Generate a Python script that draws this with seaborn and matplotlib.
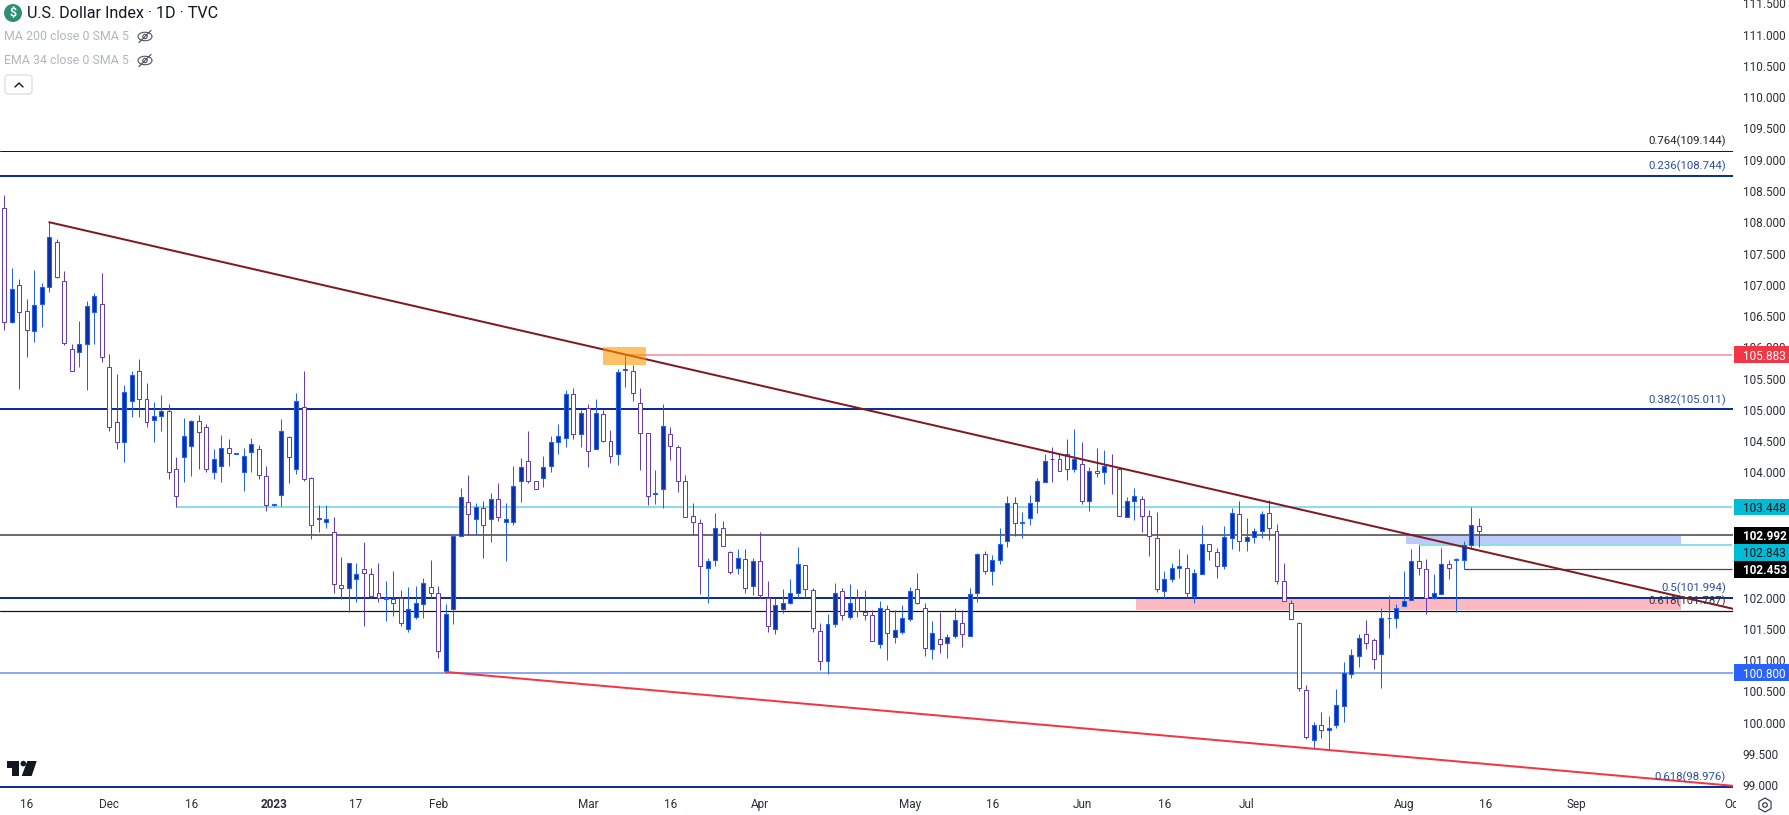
import numpy as np
import pandas as pd
import matplotlib
matplotlib.use("Agg")
import matplotlib.pyplot as plt
from matplotlib.patches import Rectangle, Circle, Ellipse, Polygon, RegularPolygon, FancyBboxPatch
from matplotlib.transforms import Bbox
import seaborn as sns

# ---------- data ----------
opens = [108.22,106.40,106.99,106.58,106.26,106.69,106.96,107.68,107.06,105.97,105.93,106.05,106.56,106.70,105.68,104.80,104.49,105.14,105.62,105.18,
104.84,104.91,104.98,104.05,104.25,104.43,104.82,104.72,104.00,104.10,104.39,104.30,104.00,104.32,104.37,103.94,103.48,103.645,104.56,104.06,
105.04,103.91,103.27,103.20,103.04,102.195,102.16,102.30,102.45,102.37,102.07,101.98,101.97,101.99,101.50,101.69,101.90,102.17,102.08,100.83,
101.81,102.98,103.52,103.25,103.43,103.25,103.57,103.20,103.20,103.87,104.19,103.87,103.91,104.11,104.48,104.545,105.25,104.62,105.03,104.37,
104.93,104.51,104.29,105.65,105.62,105.11,104.63,103.66,103.73,104.61,104.40,103.86,103.30,103.19,102.48,102.60,103.11,102.73,102.48,102.61,
102.18,102.58,101.99,101.50,101.82,101.92,102.08,102.52,102.115,101.46,100.99,101.57,102.10,101.69,101.99,101.77,101.72,101.25,101.81,101.37,
101.45,101.66,102.13,101.84,101.18,101.33,101.27,101.39,101.60,101.39,102.08,102.69,102.42,102.60,102.90,103.51,103.185,103.27,103.54,103.84,
104.22,104.21,104.29,104.05,104.13,103.55,104.03,104.00,104.11,104.05,103.28,103.54,103.57,103.31,102.95,102.11,102.29,102.47,102.48,102.02,
102.37,102.85,102.72,102.50,102.95,103.33,102.91,102.96,103.06,103.35,103.07,102.27,101.92,101.59,100.52,99.73,99.96,99.88,99.97,100.26,
100.77,101.07,101.41,101.32,101.09,101.67,101.68,101.86,101.955,102.58,102.45,101.99,102.05,102.53,102.60,102.60,102.84,103.14]
highs = [108.44,107.27,107.09,106.77,107.24,107.03,108.00,107.73,107.22,106.05,106.42,106.74,106.87,107.19,105.89,105.57,105.40,105.62,105.81,105.43,
105.13,105.24,105.09,104.25,104.87,104.84,104.92,104.77,104.37,104.60,104.53,104.31,104.39,104.55,104.44,104.10,103.49,104.85,104.58,105.27,
105.62,103.93,103.48,103.48,103.29,102.65,102.55,102.55,102.89,102.47,102.55,102.26,102.42,102.12,102.17,102.18,102.31,102.60,102.18,101.90,
102.98,103.75,103.96,103.51,103.54,103.67,103.83,103.51,104.10,104.23,104.66,103.87,104.26,104.58,104.77,105.32,105.35,105.00,105.09,105.175,
105.00,104.68,105.65,105.88,105.72,105.35,104.63,104.04,105.09,104.73,104.44,103.96,103.51,103.25,102.63,103.35,103.22,102.74,102.78,102.78,
102.63,103.04,102.26,101.99,102.14,102.30,102.81,102.52,102.15,101.59,101.74,102.23,102.15,102.22,102.13,102.12,101.80,101.94,101.875,101.80,
101.88,102.17,102.39,101.91,101.62,101.77,101.42,101.83,101.80,102.15,102.71,102.74,102.68,103.11,103.62,103.61,103.37,103.64,103.91,104.30,
104.41,104.29,104.53,104.69,104.49,104.08,104.39,104.36,104.29,104.07,103.60,103.75,103.62,103.40,103.37,102.42,102.55,102.78,102.70,102.46,
103.16,102.85,102.79,103.14,103.43,103.54,103.27,103.11,103.38,103.56,103.18,102.55,101.96,101.61,100.60,100.01,100.17,100.10,100.54,100.97,
101.18,101.42,101.64,101.36,101.84,102.04,101.90,102.42,102.78,102.84,102.61,102.38,102.79,102.60,102.64,102.90,103.44,103.27]
lows = [106.28,106.39,105.33,105.85,106.09,106.33,106.89,107.11,106.03,105.62,105.69,105.32,106.06,105.77,104.67,104.38,104.17,104.89,104.88,104.72,
104.48,104.67,103.90,103.45,103.85,103.95,104.05,104.00,103.90,103.85,104.10,104.30,103.70,104.00,103.90,103.38,103.47,103.46,103.83,103.98,
103.87,102.94,103.04,103.11,102.07,101.98,101.77,101.93,101.55,102.00,101.93,101.63,101.71,101.55,101.45,101.66,101.68,102.00,101.03,100.80,
101.58,102.98,103.00,103.00,102.64,102.89,103.23,102.59,103.165,103.53,103.83,103.74,103.77,104.01,104.30,104.41,104.535,104.41,104.09,104.37,
104.48,104.15,104.125,105.37,105.14,104.04,103.48,103.50,103.43,104.20,103.69,103.28,103.00,102.06,101.92,102.51,102.82,102.38,102.37,102.08,
102.04,101.99,101.45,101.42,101.76,101.89,101.99,101.99,101.45,100.84,100.78,101.53,101.64,101.66,101.69,101.64,101.31,101.19,101.00,101.28,
101.42,101.63,101.89,101.07,101.02,101.12,101.03,101.35,101.21,101.39,101.93,102.38,102.20,102.54,102.80,102.99,102.95,103.16,103.35,103.84,
103.85,104.03,103.88,104.01,103.50,103.38,103.93,103.82,103.66,103.30,103.28,103.24,103.05,102.66,102.09,101.99,102.25,102.32,102.00,101.92,
102.37,102.60,102.31,102.46,102.78,102.74,102.74,102.87,102.95,102.92,102.22,101.94,101.65,100.51,99.74,99.58,99.76,99.57,99.91,100.01,
100.71,100.89,101.18,100.86,100.55,101.35,101.52,101.86,101.955,102.36,101.74,101.97,102.05,102.30,101.77,102.45,102.78,102.81]
closes = [106.40,106.93,106.56,106.27,106.67,106.96,107.76,107.13,106.07,105.62,106.05,106.66,106.82,105.85,104.72,104.49,105.28,105.55,105.17,104.80,
104.91,104.99,104.00,103.62,104.59,104.82,104.65,104.05,104.22,104.39,104.31,104.31,104.26,104.45,103.96,103.485,103.49,104.67,104.25,105.14,
103.90,103.165,103.25,103.25,102.22,102.16,102.55,102.37,102.40,102.03,101.99,101.99,101.91,101.60,101.81,101.91,102.23,102.08,101.15,101.73,
102.98,103.61,103.33,103.45,103.165,103.57,103.28,103.25,103.79,104.08,103.87,103.74,104.08,104.48,104.58,105.25,104.62,104.945,104.35,104.945,
104.51,104.27,105.60,105.64,105.265,104.63,103.62,103.67,104.74,104.43,103.86,103.29,103.20,102.51,102.58,103.11,102.82,102.41,102.63,102.16,
102.58,102.04,101.55,101.875,101.91,102.08,102.53,102.13,101.52,100.99,101.57,102.08,101.72,101.92,101.78,101.72,101.31,101.83,101.44,101.48,
101.67,102.10,101.92,101.20,101.44,101.26,101.37,101.64,101.41,102.05,102.69,102.42,102.60,102.85,103.51,103.19,103.20,103.51,103.87,104.19,
104.21,104.03,104.05,104.21,103.55,104.03,103.985,104.11,104.10,103.30,103.54,103.62,103.30,102.99,102.13,102.29,102.47,102.51,102.07,102.39,
102.85,102.74,102.50,102.96,103.35,102.91,102.96,103.07,103.33,103.11,102.26,101.94,101.65,100.55,99.77,99.96,99.88,99.91,100.28,100.80,
101.08,101.36,101.28,101.02,101.68,101.68,101.84,101.95,102.58,102.48,102.00,102.07,102.53,102.47,102.62,102.84,103.155,103.07]

first_session = "2022-11-11"
tick_dates = ["2022-11-16","2022-12-01","2022-12-16","2023-01-02","2023-01-17","2023-02-01","2023-03-01","2023-03-16","2023-04-03",
              "2023-05-01","2023-05-16","2023-06-01","2023-06-16","2023-07-03","2023-08-01","2023-08-16","2023-09-01","2023-10-02"]
tick_labels = ["16","Dec","16","2023","17","Feb","Mar","16","Apr","May","16","Jun","16","Jul","Aug","16","Sep","Oct"]
price_ticks = [99.0 + 0.5*k for k in range(26)]

full_levels = [109.144, 108.744, 105.011, 102.992, 101.994, 101.787, 100.800, 98.976]
full_colors = ["#1a1a1a", "#0d2f94", "#0d2f94", "#6e6e6e", "#0d2f94", "#111111", "#8aa9f7", "#0d2f94"]
full_widths = [1, 2, 2, 2, 2, 1.2, 2, 2]

partial_levels = [105.883, 103.448, 102.843, 102.453]
partial_starts = ["2023-03-08", "2022-12-14", "2023-08-03", "2023-08-11"]
partial_colors = ["#f2929a", "#6fd9e3", "#6fd9e3", "#444444"]

fib_labels = ["0.764(109.144)", "0.236(108.744)", "0.382(105.011)", "0.5(101.994)", "0.618(101.787)", "0.618(98.976)"]
fib_values = [109.144, 108.744, 105.011, 101.994, 101.787, 98.976]
fib_colors = ["#222222", "#2a4da3", "#2a4da3", "#2a4da3", "#333333", "#2a4da3"]

axis_tags = ["105.883", "103.448", "102.992", "102.843", "102.453", "100.800"]
tag_values = [105.883, 103.448, 102.992, 102.72, 102.453, 100.800]
tag_fills = ["#f23645", "#00bcd4", "#000000", "#00bcd4", "#000000", "#2962ff"]
tag_text = ["white", "#131722", "white", "#131722", "white", "white"]

maroon_dates = ["2022-11-21", "2023-10-02"]
maroon_values = [108.00, 101.82]
red_dates = ["2023-02-02", "2023-10-02"]
red_values = [100.81, 98.99]

# ---------- set-up ----------
sns.set_theme(style="white")
plt.rcParams["font.family"] = ["Roboto", "DejaVu Sans"]
plt.rcParams["axes.unicode_minus"] = False

W, H, AW, AB = 1790, 815, 1733, 791
fig = plt.figure(figsize=(W/100, H/100), dpi=100, facecolor="white")
ax = fig.add_axes([0, (H-AB)/H, AW/W, AB/H])
ax.set_facecolor("white")

sessions = pd.bdate_range(first_session, periods=300)
pos = lambda d: int(sessions.get_loc(pd.Timestamp(d)))

df = pd.DataFrame({"open": opens, "high": highs, "low": lows, "close": closes})
df["x"] = np.arange(len(df))
up = df[df.close >= df.open]
dn = df[df.close < df.open]

px = 0.72
UP_EDGE, UP_FILL, DN_EDGE = "#2160f0", "#0d2f9f", "#673ab7"
BW = 0.53
XMIN, XMAX = -0.578, 230.8
frac = lambda i: (i - XMIN) / (XMAX - XMIN)

# levels
for v, c, w in zip(full_levels, full_colors, full_widths):
    ax.axhline(v, color=c, lw=w*px, zorder=1)
for v, s, c in zip(partial_levels, partial_starts, partial_colors):
    ax.hlines(v, pos(s), XMAX, color=c, lw=(1.6 if c != "#444444" else 1.2)*px, zorder=1)

# zones
ax.axhspan(101.80, 101.985, xmin=frac(151.1), xmax=frac(223.9), color="#fdb9bf", lw=0, zorder=0.8)
ax.axhspan(102.855, 102.99, xmin=frac(187.1), xmax=frac(223.9), color="#bccbf9", lw=0, zorder=0.8)

# candles
ax.vlines(up.x, up.low, up.high, color=UP_EDGE, lw=px, zorder=2)
ax.vlines(dn.x, dn.low, dn.high, color=DN_EDGE, lw=px, zorder=2)
ax.bar(up.x, up.close-up.open, bottom=up.open, width=BW, color=UP_FILL, edgecolor=UP_EDGE, linewidth=1.1*px, zorder=3)
ax.bar(dn.x, dn.open-dn.close, bottom=dn.close, width=BW, color="white", edgecolor=DN_EDGE, linewidth=1.0*px, zorder=3)

# trend lines
sns.lineplot(x=[pos(d) for d in maroon_dates], y=maroon_values, ax=ax, color="#801922", lw=2*px, errorbar=None, zorder=4)
sns.lineplot(x=[pos(d) for d in red_dates], y=red_values, ax=ax, color="#f23645", lw=2*px, errorbar=None, zorder=4)

# orange box on top
ax.add_patch(Rectangle((80.06, 105.72), 5.74, 0.28, facecolor="#ff9800", alpha=0.6, lw=0, zorder=5))

ax.set_xlim(XMIN, XMAX)
ax.set_ylim(98.907, 111.553)
ax.set_xlabel(""); ax.set_ylabel("")
for s in ax.spines.values():
    s.set_visible(False)
ax.grid(False)

# axes ticks
ax.yaxis.tick_right()
ax.set_yticks(price_ticks)
ax.set_yticklabels([f"{v:.3f}" for v in price_ticks], fontsize=8.5, color="#2a2e39")
ax.tick_params(axis="y", length=0, pad=7)
ax.set_xticks([pos(d) for d in tick_dates])
ax.set_xticklabels(tick_labels, fontsize=8.5, color="#2a2e39")
ax.tick_params(axis="x", length=0, pad=5)
for lab in ax.get_xticklabels():
    if lab.get_text() == "2023":
        lab.set_fontweight("bold")
    if lab.get_text() == "Oct":
        lab.set_clip_on(True)
        lab.set_clip_box(Bbox([[0, 0], [1736, 60]]))

# fib text (right aligned, sitting on its line)
for t, v, c in zip(fib_labels, fib_values, fib_colors):
    ax.annotate(t, xy=(1, v), xycoords=ax.get_yaxis_transform(), xytext=(-5, 2.5), textcoords="offset points",
                ha="right", va="bottom", fontsize=8.2, color=c, zorder=6)

# price tags
tr = ax.get_yaxis_transform()
for t, v, f, tc in zip(axis_tags, tag_values, tag_fills, tag_text):
    ax.add_patch(Rectangle((1.0005, v-0.133), 57/AW, 0.266, transform=tr, facecolor=f, lw=0, clip_on=False, zorder=9))
    ax.text(1+10/AW, v, t, transform=tr, ha="left", va="center_baseline", fontsize=8.5, color=tc,
            fontweight="bold" if f == "#000000" else "normal", zorder=10, clip_on=False)

# ---------- overlay for header and icons (pixel space) ----------
ov = fig.add_axes([0, 0, 1, 1], facecolor="none")
ov.set_xlim(0, W); ov.set_ylim(H, 0); ov.axis("off")

ov.add_patch(Circle((13, 13), 9, facecolor="#2f8f76", lw=0))
ov.text(13, 13.5, "$", ha="center", va="center", color="white", fontsize=9, fontweight="bold")
ov.text(27, 13, "U.S. Dollar Index · 1D · TVC", ha="left", va="center", fontsize=11.6, color="#131722")
GR = "#b2b5be"
for y, t in zip((36.5, 60.5), ("MA 200 close 0 SMA 5", "EMA 34 close 0 SMA 5")):
    ov.text(4, y, t, ha="left", va="center", fontsize=8.9, color=GR)
    ov.add_patch(Ellipse((145, y), 14, 8.5, fill=False, ec="#50535e", lw=0.8))
    ov.add_patch(Circle((145, y), 2.2, fill=False, ec="#50535e", lw=0.8))
    ov.plot([139, 151], [y+6, y-6], color="#50535e", lw=0.9)
ov.add_patch(FancyBboxPatch((5, 75), 27, 19, boxstyle="round,pad=0,rounding_size=3", fill=False, ec="#d6d8de", lw=0.8))
ov.plot([15, 19, 23], [87, 83, 87], color="#131722", lw=1.0)

# logo
LG = "#131722"
ov.add_patch(Polygon([(6.7,761),(19.3,761),(19.3,776),(12,776),(12,767.5),(6.7,767.5)], facecolor=LG, lw=0))
ov.add_patch(Circle((23.3, 763.6), 2.8, facecolor=LG, lw=0))
ov.add_patch(Polygon([(27.3,761),(36.7,761),(31.7,776),(21.7,776)], facecolor=LG, lw=0))

# settings icon
ov.add_patch(RegularPolygon((1765, 805), 6, radius=7, fill=False, ec="#2a2e39", lw=0.8))
ov.add_patch(Circle((1765, 805), 2.3, fill=False, ec="#2a2e39", lw=0.8))

fig.savefig("out.png", dpi=100, facecolor="white")
